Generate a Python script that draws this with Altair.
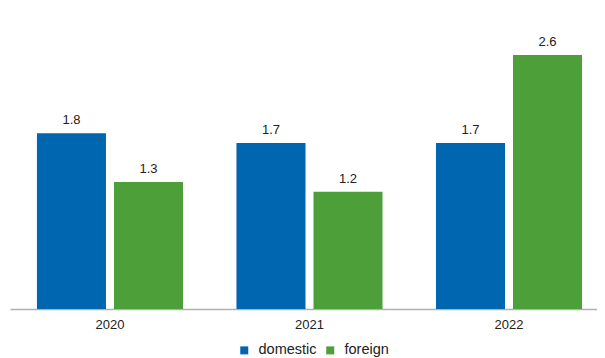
import altair as alt
import pandas as pd

years = ["2020", "2021", "2022"]
series = ["domestic", "foreign"]
domestic = [1.8, 1.7, 1.7]
foreign = [1.3, 1.2, 2.6]
colors = ["#0066b0", "#4d9f3a"]

rows = []
for i, y in enumerate(years):
    rows.append({"year": y, "type": "domestic", "value": domestic[i]})
    rows.append({"year": y, "type": "foreign", "value": foreign[i]})
df = pd.DataFrame(rows)

x = alt.X("year:N", title=None, sort=years,
          scale=alt.Scale(paddingInner=0.268, paddingOuter=0.105, align=0.643),
          axis=alt.Axis(labelAngle=0, ticks=False, domainColor="#b0b0b0", domainWidth=1.5,
                        labelFont="Liberation Sans", labelFontSize=13, labelColor="#222222",
                        labelPadding=9))
y = alt.Y("value:Q", title=None, scale=alt.Scale(domain=[0, 3], nice=False), axis=None)
xo = alt.XOffset("type:N", sort=series, scale=alt.Scale(paddingInner=0.104, paddingOuter=0))
color = alt.Color("type:N", sort=series, scale=alt.Scale(domain=series, range=colors),
                  legend=alt.Legend(title=None, orient="none", direction="horizontal",
                                    legendX=227, legendY=327, symbolType="square",
                                    symbolSize=64, symbolStrokeWidth=0,
                                    labelFont="Liberation Sans", labelFontSize=14.5,
                                    labelColor="#222222", columnPadding=6, labelOffset=7))

bars = alt.Chart(df).mark_bar().encode(x=x, y=y, xOffset=xo, color=color)
labels = alt.Chart(df).mark_text(dy=-9, baseline="alphabetic", font="Liberation Sans",
                                 fontSize=13, color="#222222").encode(
    x=x, y=y, xOffset=xo, text=alt.Text("value:Q", format=".1f"))

chart = (bars + labels).properties(
    width=587, height=293,
    padding={"left": 2, "top": 8, "right": 0, "bottom": 0},
).configure_view(stroke=None)

chart.save("out.html", embed_options={"renderer": "svg", "actions": False})
